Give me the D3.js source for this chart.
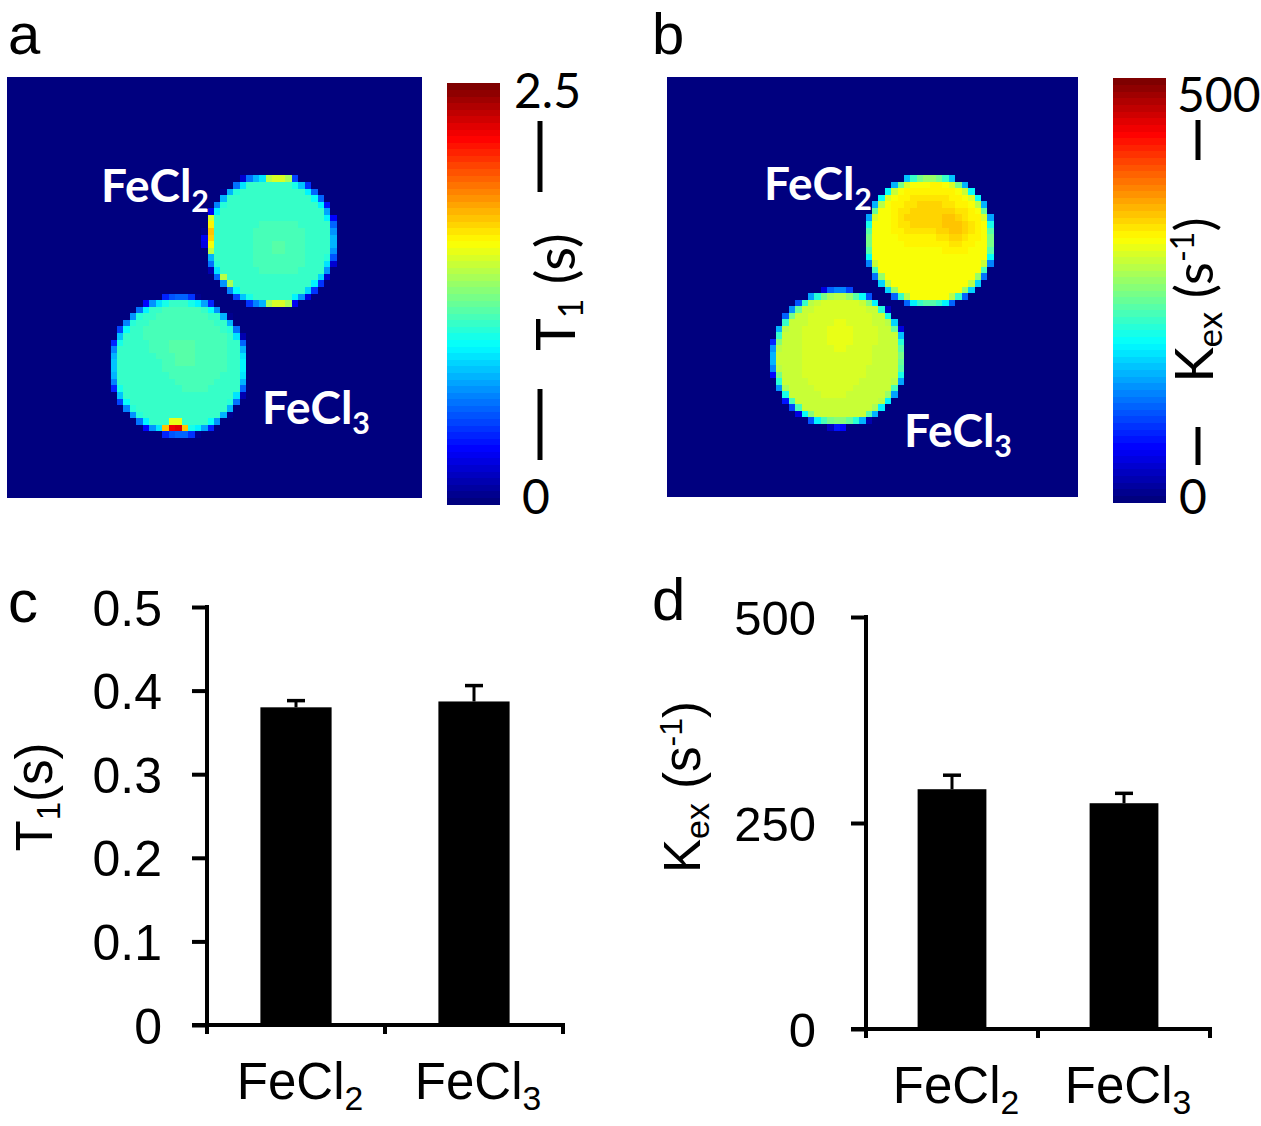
<!DOCTYPE html>
<html>
<head>
<meta charset="utf-8">
<script src="https://cdn.jsdelivr.net/npm/d3@7"></script>
<style>
  html, body { margin: 0; padding: 0; background: #fff; }
  svg { display: block; }
</style>
</head>
<body>
<svg id="chart" width="1261" height="1126"></svg>
<script>
// ---------------- DATA ----------------
const vialNames = ["FeCl2", "FeCl3"];

// Parametric maps on a 64 x 64 voxel grid (vial centres / radii in voxels)
const t1VialCx = [40.8, 26.6];
const t1VialCy = [24.9, 44.0];
const t1VialR = [9.7, 10.2];
const t1VialValue = [1.07, 1.09];          // s
const t1Artifacts = [                       // [voxel x, voxel y, T1 (s)]
  [31, 21, 1.45], [31, 22, 1.6], [31, 23, 1.7], [31, 24, 1.65], [31, 25, 1.55], [31, 26, 1.4],
  [40, 15, 1.4], [41, 15, 1.45], [42, 15, 1.45], [43, 15, 1.35],
  [40, 34, 1.35], [41, 34, 1.45], [42, 34, 1.45], [43, 34, 1.35],
  [33, 30, 1.4], [34, 31, 1.35],
  [24, 53, 1.7], [25, 53, 2.2], [26, 53, 2.25], [27, 53, 1.7], [25, 52, 1.5], [26, 52, 1.5]
];
const t1Spots = [                           // [vx, vy, amplitude (s), sigma]
  [42, 26, 0.07, 3], [27, 42, 0.06, 3], [22, 46, -0.04, 3]
];

const kexVialCx = [41.0, 26.8];
const kexVialCy = [24.9, 42.9];
const kexVialR = [9.7, 10.0];
const kexVialValue = [308, 288];            // s^-1
const kexSpots = [
  [39, 21.5, 26, 2.4], [45, 23, 30, 2.0], [43, 19.5, 12, 2], [27, 39, 12, 2.5], [26, 44, 4, 3]
];

const t1ColorbarTicks = ["0", "2.5"];
const kexColorbarTicks = ["0", "500"];
const t1Max = 2.5;
const kexMax = 500;

// Bar charts
const barCategories = ["FeCl2", "FeCl3"];
const t1Mean = [0.380, 0.387];
const t1Err = [0.008, 0.019];
const kexMean = [291, 274];
const kexErr = [17, 12];
const t1Ticks = [0, 0.1, 0.2, 0.3, 0.4, 0.5];
const kexTicks = [0, 250, 500];

// ---------------- HELPERS ----------------
const svg = d3.select("#chart");
const jetColors = ["#00007F", "#0000FF", "#007FFF", "#00FFFF", "#7FFF7F", "#FFFF00", "#FF7F00", "#FF0000", "#7F0000"];
const jet = d3.scaleLinear().domain(d3.range(9).map(i => i / 8)).range(jetColors).interpolate(d3.interpolateRgb).clamp(true);
const NLEV = 64;
function jetQ(t) {
  t = Math.max(0, Math.min(1, t));
  const k = Math.min(NLEV - 1, Math.floor(t * NLEV));
  return jet(k / (NLEV - 1));
}
const NV = 64;

function buildMap(cx, cy, r, vals, spots, artifacts) {
  const grid = [];
  const art = new Map();
  (artifacts || []).forEach(a => art.set(a[0] + "," + a[1], a[2]));
  for (let j = 0; j < NV; j++) {
    for (let i = 0; i < NV; i++) {
      const x = i + 0.5, y = j + 0.5;
      let v = 0;
      for (let k = 0; k < cx.length; k++) {
        const d = Math.hypot(x - cx[k], y - cy[k]);
        const frac = Math.max(0, Math.min(1, (r[k] + 0.7 - d) / 1.4));
        if (frac > 0) {
          let base = vals[k];
          if (frac >= 1) {
            spots.forEach(s => {
              const dd = (x - s[0]) ** 2 + (y - s[1]) ** 2;
              const ds = Math.hypot(s[0] - cx[k], s[1] - cy[k]);
              if (ds < r[k]) base += s[2] * Math.exp(-dd / (2 * s[3] * s[3]));
            });
          }
          v = Math.max(v, base * Math.sqrt(frac));
        }
      }
      const key = i + "," + j;
      if (art.has(key)) v = art.get(key);
      grid.push({ i, j, v });
    }
  }
  return grid;
}

function drawMap(cells, x0, x1, y0, y1, vmax) {
  const sx = d3.scaleLinear().domain([0, NV]).range([x0, x1]);
  const sy = d3.scaleLinear().domain([0, NV]).range([y0, y1]);
  const g = svg.append("g");
  g.selectAll("rect").data(cells).join("rect")
    .attr("x", d => sx(d.i))
    .attr("y", d => sy(d.j))
    .attr("width", sx(1) - sx(0) + 0.6)
    .attr("height", sy(1) - sy(0) + 0.6)
    .attr("fill", d => jetQ(d.v / vmax))
    .attr("shape-rendering", "crispEdges");
}

function drawColorbar(x0, x1, yTop, yBot, vmax) {
  const cs = d3.scaleLinear().domain([0, vmax]).range([yBot, yTop]);
  const levels = d3.range(NLEV);
  svg.append("g").selectAll("rect").data(levels).join("rect")
    .attr("x", x0)
    .attr("width", x1 - x0)
    .attr("y", k => cs((k + 1) / NLEV * vmax))
    .attr("height", k => cs(k / NLEV * vmax) - cs((k + 1) / NLEV * vmax) + 0.5)
    .attr("fill", k => jet(k / (NLEV - 1)))
    .attr("shape-rendering", "crispEdges");
}

function chemLabel(sel, x, y, name, size, color, weight, family, anchor) {
  const t = sel.append("text")
    .attr("x", x).attr("y", y)
    .attr("font-family", family)
    .attr("font-weight", weight)
    .attr("font-size", size)
    .attr("fill", color)
    .attr("text-anchor", anchor || "start");
  t.append("tspan").text(name.slice(0, -1));
  t.append("tspan").attr("font-size", size * 0.66).attr("dy", size * 0.22).text(name.slice(-1));
  return t;
}

const sansCal = "Lato, 'Open Sans', sans-serif";
const sansAr = "'Liberation Sans', Arial, Helvetica, sans-serif";

// ---------------- PANEL A ----------------
const t1Cells = buildMap(t1VialCx, t1VialCy, t1VialR, t1VialValue, t1Spots, t1Artifacts);
drawMap(t1Cells, 7, 421, 77, 497, t1Max);
chemLabel(svg, 101, 202, vialNames[0], 46, "#fff", 700, sansCal);
chemLabel(svg, 262, 424, vialNames[1], 46, "#fff", 700, sansCal);
drawColorbar(447, 500, 83, 504, t1Max);
svg.append("text").attr("x", 514).attr("y", 108).attr("font-family", sansCal).attr("font-size", 48).text(t1ColorbarTicks[1]);
svg.append("text").attr("x", 522).attr("y", 514).attr("font-family", sansCal).attr("font-size", 48).text(t1ColorbarTicks[0]);
// axis title with bars
svg.append("line").attr("x1", 540).attr("x2", 540).attr("y1", 121).attr("y2", 192).attr("stroke", "#000").attr("stroke-width", 5);
svg.append("line").attr("x1", 540).attr("x2", 540).attr("y1", 389).attr("y2", 460).attr("stroke", "#000").attr("stroke-width", 5);
{
  const t = svg.append("text").attr("transform", "translate(575,292) rotate(-90)")
    .attr("text-anchor", "middle").attr("font-family", sansCal).attr("font-size", 55);
  t.append("tspan").text("T");
  t.append("tspan").attr("font-size", 34).attr("dy", 8).text("1");
  t.append("tspan").attr("dy", -8).text(" (s)");
}
svg.append("text").attr("x", 8).attr("y", 54).attr("font-family", sansAr).attr("font-size", 58).text("a");

// ---------------- PANEL B ----------------
const kexCells = buildMap(kexVialCx, kexVialCy, kexVialR, kexVialValue, kexSpots, []);
drawMap(kexCells, 667, 1077, 77, 496, kexMax);
chemLabel(svg, 764, 200, vialNames[0], 46, "#fff", 700, sansCal);
chemLabel(svg, 904, 447, vialNames[1], 46, "#fff", 700, sansCal);
drawColorbar(1113, 1166, 78, 502, kexMax);
svg.append("text").attr("x", 1177).attr("y", 112).attr("font-family", sansCal).attr("font-size", 48).text(kexColorbarTicks[1]);
svg.append("text").attr("x", 1179).attr("y", 514).attr("font-family", sansCal).attr("font-size", 48).text(kexColorbarTicks[0]);
svg.append("line").attr("x1", 1198).attr("x2", 1198).attr("y1", 120).attr("y2", 160).attr("stroke", "#000").attr("stroke-width", 5);
svg.append("line").attr("x1", 1198).attr("x2", 1198).attr("y1", 427).attr("y2", 465).attr("stroke", "#000").attr("stroke-width", 5);
{
  const t = svg.append("text").attr("transform", "translate(1213,300) rotate(-90)")
    .attr("text-anchor", "middle").attr("font-family", sansCal).attr("font-size", 53);
  t.append("tspan").text("K");
  t.append("tspan").attr("font-size", 35).attr("dy", 9).text("ex");
  t.append("tspan").attr("dy", -9).text(" (s");
  t.append("tspan").attr("font-size", 32).attr("dy", -19).text("-1");
  t.append("tspan").attr("dy", 19).text(")");
}
svg.append("text").attr("x", 652).attr("y", 54).attr("font-family", sansAr).attr("font-size", 58).text("b");

// ---------------- BAR CHARTS ----------------
function barChart(opt) {
  const x = d3.scaleBand().domain(barCategories).range([opt.x0, opt.x1]);
  const y = d3.scaleLinear().domain(opt.domain).range([opt.yBot, opt.yTop]);
  const g = svg.append("g");
  const bw = x.bandwidth() * 0.4;
  // bars
  g.selectAll("rect.bar").data(barCategories).join("rect")
    .attr("class", "bar")
    .attr("x", c => x(c) + x.bandwidth() / 2 - bw / 2)
    .attr("width", bw)
    .attr("y", (c, i) => y(opt.mean[i]))
    .attr("height", (c, i) => y(0) - y(opt.mean[i]))
    .attr("fill", "#000");
  // error bars
  g.selectAll("line.err").data(barCategories).join("line")
    .attr("x1", c => x(c) + x.bandwidth() / 2)
    .attr("x2", c => x(c) + x.bandwidth() / 2)
    .attr("y1", (c, i) => y(opt.mean[i]))
    .attr("y2", (c, i) => y(opt.mean[i] + opt.err[i]))
    .attr("stroke", "#000").attr("stroke-width", 3);
  g.selectAll("line.cap").data(barCategories).join("line")
    .attr("x1", c => x(c) + x.bandwidth() / 2 - 9)
    .attr("x2", c => x(c) + x.bandwidth() / 2 + 9)
    .attr("y1", (c, i) => y(opt.mean[i] + opt.err[i]))
    .attr("y2", (c, i) => y(opt.mean[i] + opt.err[i]))
    .attr("stroke", "#000").attr("stroke-width", 3.5);
  // y axis
  const ya = g.append("g").attr("transform", `translate(${opt.x0},0)`)
    .call(d3.axisLeft(y).tickValues(opt.ticks).tickSize(15).tickPadding(opt.pad).tickSizeOuter(0).tickFormat(opt.fmt));
  ya.select(".domain").attr("stroke-width", 4).attr("d", `M0,${opt.yBot}V${opt.yTop - 2}`);
  ya.selectAll(".tick line").attr("stroke-width", 4);
  ya.selectAll(".tick text").attr("font-family", sansAr).attr("font-size", opt.tickFont).attr("dy", "0.36em").attr("fill", "#000");
  // x axis
  const xa = g.append("g").attr("transform", `translate(0,${opt.yBot})`);
  xa.append("line").attr("x1", opt.x0 - 15).attr("x2", opt.x1 + 2).attr("y1", 0).attr("y2", 0)
    .attr("stroke", "#000").attr("stroke-width", 4);
  const bounds = barCategories.map(c => x(c)).concat([opt.x1]);
  xa.selectAll("line.xt").data(bounds).join("line")
    .attr("class", "xt")
    .attr("x1", d => d).attr("x2", d => d).attr("y1", 0).attr("y2", 9)
    .attr("stroke", "#000").attr("stroke-width", 4);
  barCategories.forEach(c => {
    chemLabel(svg, x(c) + x.bandwidth() / 2 + 4, opt.labelY, c, 51, "#000", 400, sansAr, "middle");
  });
}

barChart({
  x0: 207, x1: 563, yBot: 1025, yTop: 607, domain: [0, 0.5],
  mean: t1Mean, err: t1Err, ticks: t1Ticks, pad: 30, tickFont: 50,
  fmt: d => d === 0 ? "0" : d3.format(".1f")(d), labelY: 1099
});
barChart({
  x0: 866, x1: 1210, yBot: 1029, yTop: 617, domain: [0, 500],
  mean: kexMean, err: kexErr, ticks: kexTicks, pad: 35, tickFont: 49,
  fmt: d3.format("d"), labelY: 1103
});

// y-axis titles for bar charts
{
  const t = svg.append("text").attr("transform", "translate(52,797) rotate(-90)")
    .attr("text-anchor", "middle").attr("font-family", sansAr).attr("font-size", 51);
  t.append("tspan").text("T");
  t.append("tspan").attr("font-size", 33).attr("dy", 8).text("1");
  t.append("tspan").attr("dy", -8).text("(s)");
}
{
  const t = svg.append("text").attr("transform", "translate(700,787) rotate(-90)")
    .attr("text-anchor", "middle").attr("font-family", sansAr).attr("font-size", 51);
  t.append("tspan").text("K");
  t.append("tspan").attr("font-size", 34).attr("dy", 9).text("ex");
  t.append("tspan").attr("dy", -9).text(" (s");
  t.append("tspan").attr("font-size", 32).attr("dy", -18).text("-1");
  t.append("tspan").attr("dy", 18).text(")");
}
svg.append("text").attr("x", 8).attr("y", 622).attr("font-family", sansAr).attr("font-size", 60).text("c");
svg.append("text").attr("x", 652).attr("y", 620).attr("font-family", sansAr).attr("font-size", 60).text("d");
</script>
</body>
</html>
